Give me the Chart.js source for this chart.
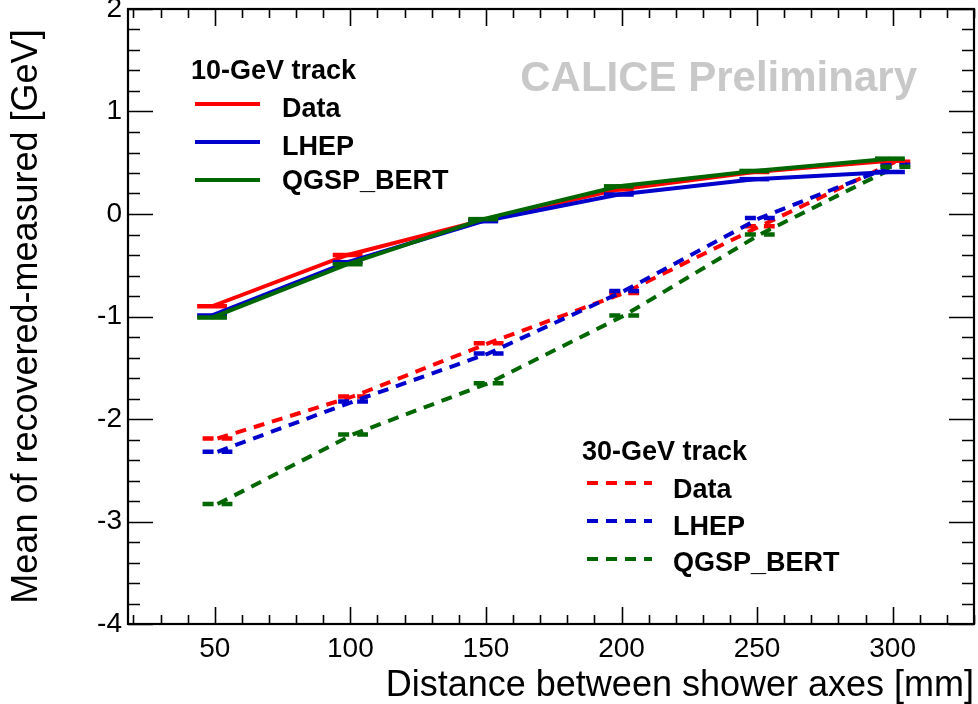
<!DOCTYPE html>
<html>
<head>
<meta charset="utf-8">
<script src="https://cdn.jsdelivr.net/npm/chart.js@4.4.0/dist/chart.umd.min.js"></script>
<style>
  html, body { margin: 0; padding: 0; background: #fff; }
  #wrap { width: 978px; height: 704px; }
</style>
</head>
<body>
<div id="wrap"><canvas id="plot" width="978" height="704"></canvas></div>
<script>
// distance between the two shower axes [mm], the two track energies are shifted apart a little
const dist10 = [49, 99, 149, 199, 249, 299];
const dist30 = [51, 101, 151, 201, 251, 301];
const distErr = 5.5;

// mean of (recovered - measured) energy [GeV]
const data10 = [-0.90, -0.40, -0.06, 0.24, 0.41, 0.52];
const lhep10 = [-0.99, -0.47, -0.07, 0.19, 0.34, 0.41];
const qgsp10 = [-1.01, -0.49, -0.05, 0.27, 0.42, 0.54];
const data30 = [-2.19, -1.78, -1.26, -0.77, -0.12, 0.51];
const lhep30 = [-2.32, -1.83, -1.36, -0.75, -0.04, 0.48];
const qgsp30 = [-2.83, -2.15, -1.65, -0.99, -0.20, 0.46];

const xTicks = [50, 100, 150, 200, 250, 300];
const yTicks = [-4, -3, -2, -1, 0, 1, 2];
const seriesNames = ['Data', 'LHEP', 'QGSP_BERT'];
const groupTitles = ['10-GeV track', '30-GeV track'];

const FONT = 'Liberation Sans';
const RED = '#ff0000', BLUE = '#0000cc', GREEN = '#006600';
const DASH = [11, 8];

function series(name, xs, ys, color, dash, order) {
    return {
        label: name,
        data: xs.map((x, i) => ({ x, y: ys[i] })),
        borderColor: color,
        backgroundColor: color,
        borderWidth: 4,
        borderDash: dash,
        pointRadius: 0,
        pointHoverRadius: 0,
        tension: 0,
        order,
        xErr: distErr
    };
}

// horizontal error bars, drawn right after each line so the stacking stays the same
const errorBars = {
    id: 'errorBars',
    afterDatasetDraw(chart, args) {
        const ds = chart.data.datasets[args.index];
        const { ctx, scales: { x, y } } = chart;
        ctx.save();
        ctx.strokeStyle = ds.borderColor;
        ctx.lineWidth = ds.borderWidth + 0.5;
        ctx.setLineDash(ds.borderDash);
        ds.data.forEach(p => {
            const py = y.getPixelForValue(p.y);
            ctx.beginPath();
            ctx.moveTo(x.getPixelForValue(p.x - ds.xErr), py);
            ctx.lineTo(x.getPixelForValue(p.x + ds.xErr), py);
            ctx.stroke();
        });
        ctx.restore();
    }
};

// box around the pad with ticks pointing inwards on all four sides
const frame = {
    id: 'frame',
    afterDraw(chart) {
        const { ctx, chartArea: a, scales: { x, y } } = chart;
        ctx.save();
        ctx.strokeStyle = '#000';
        ctx.setLineDash([]);
        ctx.lineWidth = 1.6;
        ctx.beginPath();
        for (let v = 20; v <= 330; v += 10) {
            const px = Math.round(x.getPixelForValue(v)) + 0.5;
            const len = v % 50 === 0 ? 17 : 9;
            ctx.moveTo(px, a.bottom); ctx.lineTo(px, a.bottom - len);
            ctx.moveTo(px, a.top); ctx.lineTo(px, a.top + len);
        }
        for (let k = -20; k <= 10; k++) {
            const py = Math.round(y.getPixelForValue(k / 5)) + 0.5;
            const len = k % 5 === 0 ? 25 : 12;
            ctx.moveTo(a.left, py); ctx.lineTo(a.left + len, py);
            ctx.moveTo(a.right, py); ctx.lineTo(a.right - len, py);
        }
        ctx.stroke();
        ctx.lineWidth = 2.2;
        ctx.strokeRect(a.left, a.top, a.right - a.left, a.bottom - a.top);
        ctx.restore();
    }
};

// the two legend blocks and the preliminary stamp
const legendBlocks = [
    { title: groupTitles[0], titleX: 191, titleY: 79, lineX: [195, 260], textX: 282,
      lineY: [104, 142, 180], textY: [117, 155, 189], sets: [0, 1, 2] },
    { title: groupTitles[1], titleX: 582, titleY: 460, lineX: [587, 652], textX: 673,
      lineY: [483, 521, 559], textY: [498, 535, 571], sets: [3, 4, 5] }
];

const labels = {
    id: 'labels',
    afterDraw(chart) {
        const ctx = chart.ctx;
        ctx.save();
        ctx.fillStyle = '#c8c8c8';
        ctx.font = `bold 42px "${FONT}"`;
        ctx.textAlign = 'right';
        ctx.textBaseline = 'alphabetic';
        ctx.fillText('CALICE Preliminary', 917, 91);

        ctx.textAlign = 'left';
        ctx.font = `bold 27px "${FONT}"`;
        legendBlocks.forEach(b => {
            ctx.fillStyle = '#000';
            ctx.fillText(b.title, b.titleX, b.titleY);
            b.sets.forEach((di, i) => {
                const ds = chart.data.datasets[di];
                ctx.strokeStyle = ds.borderColor;
                ctx.lineWidth = ds.borderWidth;
                ctx.setLineDash(ds.borderDash);
                ctx.beginPath();
                ctx.moveTo(b.lineX[0], b.lineY[i]);
                ctx.lineTo(b.lineX[1], b.lineY[i]);
                ctx.stroke();
                ctx.fillStyle = '#000';
                ctx.fillText(seriesNames[i], b.textX, b.textY[i]);
            });
        });
        ctx.restore();
    }
};

const ctx = document.getElementById('plot').getContext('2d');
new Chart(ctx, {
    type: 'line',
    data: {
        datasets: [
            series(seriesNames[0], dist10, data10, RED, [], 2),
            series(seriesNames[1], dist10, lhep10, BLUE, [], 1),
            series(seriesNames[2], dist10, qgsp10, GREEN, [], 0),
            series(seriesNames[0], dist30, data30, RED, DASH, 5),
            series(seriesNames[1], dist30, lhep30, BLUE, DASH, 4),
            series(seriesNames[2], dist30, qgsp30, GREEN, DASH, 3)
        ]
    },
    options: {
        responsive: false,
        animation: false,
        events: [],
        layout: { padding: { top: 9, right: 4, left: 0, bottom: 0 } },
        plugins: {
            legend: { display: false },
            tooltip: { enabled: false }
        },
        scales: {
            x: {
                type: 'linear',
                min: 18,
                max: 330,
                afterBuildTicks: s => { s.ticks = xTicks.map(v => ({ value: v })); },
                afterFit: s => { s.height = 80; s.paddingLeft = 0; s.paddingRight = 0; },
                grid: { display: false, drawTicks: false },
                border: { display: false },
                ticks: { color: '#000', font: { family: FONT, size: 28 }, padding: 8, maxRotation: 0 },
                title: {
                    display: true, text: 'Distance between shower axes [mm]', align: 'end',
                    color: '#000', font: { family: FONT, size: 36, lineHeight: 1 },
                    padding: { top: 0, bottom: 0 }
                }
            },
            y: {
                type: 'linear',
                min: -4,
                max: 2,
                afterBuildTicks: s => { s.ticks = yTicks.map(v => ({ value: v })); },
                afterFit: s => { s.width = 128; s.paddingTop = 0; s.paddingBottom = 0; },
                grid: { display: false, drawTicks: false },
                border: { display: false },
                ticks: { color: '#000', font: { family: FONT, size: 28 }, padding: 6 },
                title: {
                    display: true, text: 'Mean of recovered-measured [GeV]', align: 'center',
                    color: '#000', font: { family: FONT, size: 36, lineHeight: 1 },
                    padding: { top: 9, bottom: 0 }
                }
            }
        }
    },
    plugins: [errorBars, frame, labels]
});
</script>
</body>
</html>
